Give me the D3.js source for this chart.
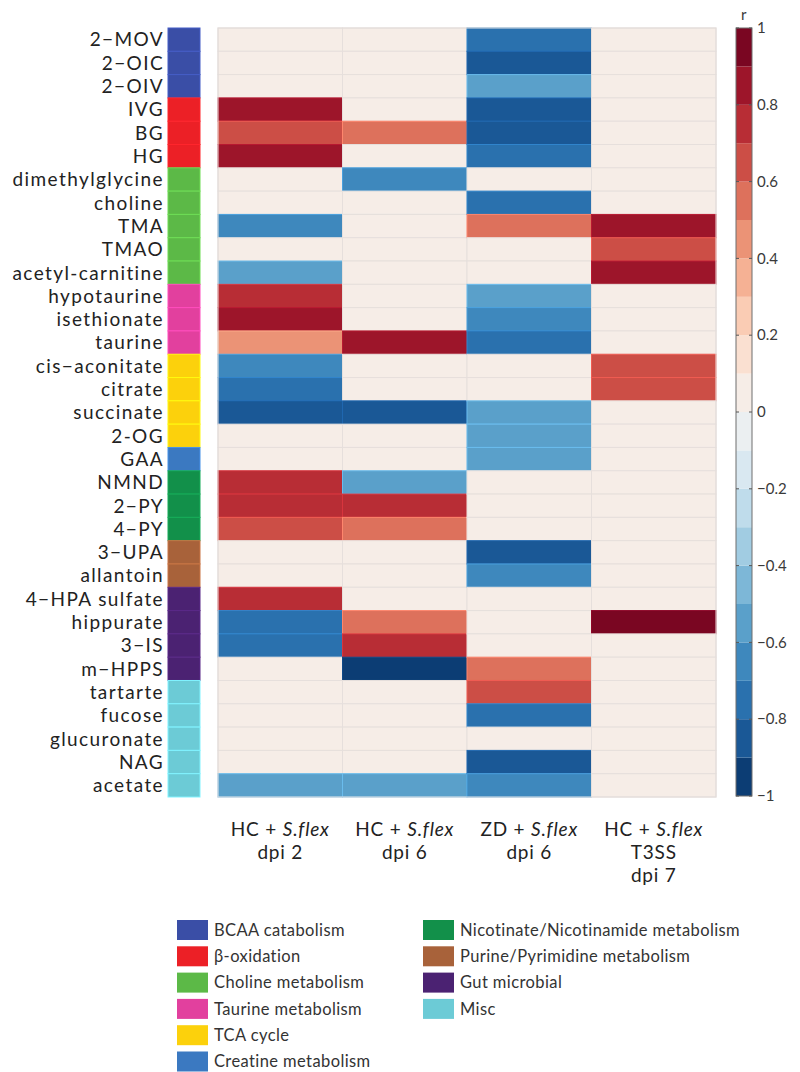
<!DOCTYPE html>
<html><head><meta charset="utf-8">
<script src="https://cdn.jsdelivr.net/npm/d3@7"></script>
<style>
html,body{margin:0;padding:0;background:#fff;}
svg{display:block;}
text{font-family:Lato,"Open Sans",sans-serif;}
</style></head>
<body>
<script>
// ---------- DATA ----------
const metabolites = ["2\u2212MOV","2\u2212OIC","2\u2212OIV","IVG","BG","HG","dimethylglycine","choline","TMA","TMAO","acetyl-carnitine","hypotaurine","isethionate","taurine","cis\u2212aconitate","citrate","succinate","2-OG","GAA","NMND","2\u2212PY","4\u2212PY","3\u2212UPA","allantoin","4\u2212HPA sulfate","hippurate","3\u2212IS","m\u2212HPPS","tartarte","fucose","glucuronate","NAG","acetate"];
const pathwayOfRow = ["BCAA","BCAA","BCAA","BOX","BOX","BOX","CHO","CHO","CHO","CHO","CHO","TAU","TAU","TAU","TCA","TCA","TCA","TCA","CRE","NIC","NIC","NIC","PUR","PUR","GUT","GUT","GUT","GUT","MISC","MISC","MISC","MISC","MISC"];
const pathwayKeys = ["BCAA","BOX","CHO","TAU","TCA","CRE","NIC","PUR","GUT","MISC"];
const pathwayNames = ["BCAA catabolism","\u03b2-oxidation","Choline metabolism","Taurine metabolism","TCA cycle","Creatine metabolism","Nicotinate/Nicotinamide metabolism","Purine/Pyrimidine metabolism","Gut microbial","Misc"];
const pathwayColors = ["#3a4ea6","#ec2026","#5cb947","#e2409e","#fcd10c","#3b79c1","#12904a","#a8623a","#4b2272","#6ccbd6"];

const conditionLine1 = ["HC + ","HC + ","ZD + ","HC + "];
const conditionLine2 = ["dpi 2","dpi 6","dpi 6","T3SS"];
const conditionLine3 = ["","","","dpi 7"];

const hcDpi2   = [0,0,0,0.85,0.65,0.85,0,0,-0.65,0,-0.55,0.75,0.85,0.45,-0.65,-0.75,-0.85,0,0,0.75,0.75,0.65,0,0,0.75,-0.75,-0.75,0,0,0,0,0,-0.55];
const hcDpi6   = [0,0,0,0,0.55,0,-0.65,0,0,0,0,0,0,0.85,0,0,-0.85,0,0,-0.55,0.75,0.55,0,0,0,0.55,0.75,-0.95,0,0,0,0,-0.55];
const zdDpi6   = [-0.75,-0.85,-0.55,-0.85,-0.85,-0.75,0,-0.75,0.55,0,0,-0.55,-0.65,-0.75,0,0,-0.55,-0.55,-0.55,0,0,0,-0.85,-0.65,0,0,0,0.55,0.65,-0.75,0,-0.85,-0.65];
const t3ssDpi7 = [0,0,0,0,0,0,0,0,0.85,0.65,0.85,0,0,0,0.65,0.65,0,0,0,0,0,0,0,0,0,0.95,0,0,0,0,0,0,0];

const colorTicks = [1,0.8,0.6,0.4,0.2,0,-0.2,-0.4,-0.6,-0.8,-1];
const colorTickLabels = ["1","0.8","0.6","0.4","0.2","0","\u22120.2","\u22120.4","\u22120.6","\u22120.8","\u22121"];

// ---------- CHART ----------
const W = 800, H = 1072;
const svg = d3.select("body").append("svg").attr("width", W).attr("height", H);

const columns = [hcDpi2, hcDpi6, zdDpi6, t3ssDpi7];
const colIdx = d3.range(columns.length);

const x = d3.scaleBand().domain(colIdx).range([218, 716]).padding(0);
const y = d3.scaleBand().domain(metabolites).range([28, 797]).padding(0);

const nBins = 20;
const binColors = d3.range(nBins).map(i => d3.interpolateRdBu(1 - (i + 0.5) / nBins));
const color = d3.scaleQuantize().domain([-1, 1]).range(binColors);
const pathColor = d3.scaleOrdinal().domain(pathwayKeys).range(pathwayColors);

// heatmap cells
const cells = [];
colIdx.forEach(c => metabolites.forEach((m, r) => cells.push({c, m, v: columns[c][r]})));
svg.append("g").selectAll("rect").data(cells).join("rect")
  .attr("x", d => x(d.c))
  .attr("y", d => y(d.m))
  .attr("width", x.bandwidth())
  .attr("height", y.bandwidth())
  .attr("fill", d => color(d.v))
  .attr("stroke", d => Math.abs(d.v) < 0.1 ? "#e6dfdc" : d3.color(color(d.v)).brighter(0.45))
  .attr("stroke-width", 1);

// outline
svg.append("rect").attr("x", 218).attr("y", 28).attr("width", 498).attr("height", 769)
  .attr("fill", "none").attr("stroke", "#e2dcda").attr("stroke-width", 1);

// pathway strip
svg.append("g").selectAll("rect").data(metabolites).join("rect")
  .attr("x", 168).attr("width", 32)
  .attr("y", d => y(d)).attr("height", y.bandwidth())
  .attr("fill", (d, i) => pathColor(pathwayOfRow[i]))
  .attr("stroke", (d, i) => d3.color(pathColor(pathwayOfRow[i])).brighter(0.5))
  .attr("stroke-width", 1);

// row labels
const yAxis = d3.axisLeft(y).tickSize(0).tickPadding(0);
const yg = svg.append("g").attr("transform", "translate(164,0)").call(yAxis);
yg.select(".domain").remove();
yg.selectAll("text").attr("font-size", 19).attr("fill", "#222")
  .attr("font-family", "Lato, sans-serif").attr("letter-spacing", "1.4px").attr("dy", "0.36em");

// column labels
const xl = svg.append("g").attr("font-family", "Lato, sans-serif").attr("letter-spacing", "0.8px");
colIdx.forEach(c => {
  const cx = x(c) + x.bandwidth() / 2;
  const t = xl.append("text").attr("x", cx).attr("y", 836).attr("text-anchor", "middle")
    .attr("font-size", 19).attr("fill", "#222");
  t.append("tspan").text(conditionLine1[c]);
  t.append("tspan").attr("font-style", "italic").text("S.flex");
  xl.append("text").attr("x", cx).attr("y", 859).attr("text-anchor", "middle")
    .attr("font-size", 19).attr("fill", "#222").text(conditionLine2[c]);
  if (conditionLine3[c]) xl.append("text").attr("x", cx).attr("y", 882).attr("text-anchor", "middle")
    .attr("font-size", 19).attr("fill", "#222").text(conditionLine3[c]);
});

// colorbar
const cy = d3.scaleLinear().domain([1, -1]).range([28, 796]);
const cb = svg.append("g");
cb.selectAll("rect").data(d3.range(nBins)).join("rect")
  .attr("x", 736).attr("width", 16)
  .attr("y", i => cy(-1 + (i + 1) * 2 / nBins))
  .attr("height", i => cy(-1 + i * 2 / nBins) - cy(-1 + (i + 1) * 2 / nBins))
  .attr("fill", i => binColors[i]);
cb.append("rect").attr("x", 736).attr("y", 28).attr("width", 16).attr("height", 768)
  .attr("fill", "none").attr("stroke", "#6e6e6e").attr("stroke-width", 1);
cb.selectAll("line.tl").data(colorTicks).join("line").attr("class", "tl")
  .attr("x1", 736).attr("x2", 739).attr("y1", d => cy(d)).attr("y2", d => cy(d))
  .attr("stroke", "#555");
cb.selectAll("line.tr").data(colorTicks).join("line").attr("class", "tr")
  .attr("x1", 749).attr("x2", 752).attr("y1", d => cy(d)).attr("y2", d => cy(d))
  .attr("stroke", "#555");
cb.selectAll("text.tk").data(colorTicks).join("text").attr("class", "tk")
  .attr("x", 757).attr("y", d => cy(d)).attr("dy", "0.35em")
  .attr("font-size", 15).attr("fill", "#3a3a3a").attr("font-family", "Liberation Sans, Arial, sans-serif")
  .text((d, i) => colorTickLabels[i]);
svg.append("text").attr("x", 741).attr("y", 20).attr("font-size", 15).attr("fill", "#3a3a3a")
  .attr("font-family", "Liberation Sans, Arial, sans-serif").text("r");

// legend
const lg = svg.append("g");
pathwayNames.forEach((name, i) => {
  const col = i < 6 ? 0 : 1;
  const row = i < 6 ? i : i - 6;
  const lx = col === 0 ? 177 : 423;
  const ly = 920 + row * 26.3;
  lg.append("rect").attr("x", lx).attr("y", ly).attr("width", 31).attr("height", 20)
    .attr("fill", pathwayColors[i]);
  lg.append("text").attr("x", lx + 37).attr("y", ly + 10).attr("dy", "0.35em")
    .attr("font-family", "'Open Sans', sans-serif").attr("letter-spacing", "0.4px")
    .attr("font-size", 16.5).attr("fill", "#333").text(name);
});
</script>
</body></html>
